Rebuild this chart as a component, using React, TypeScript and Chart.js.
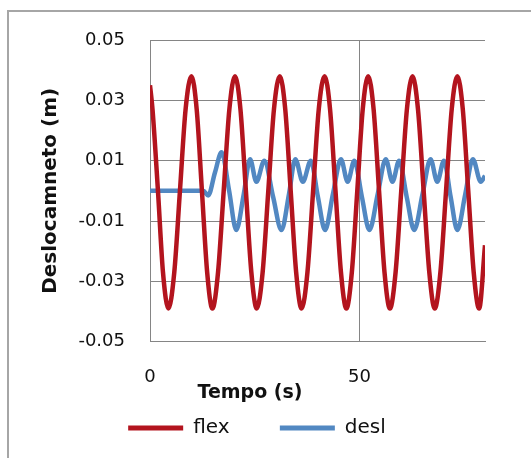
import React, { useEffect, useRef } from 'react';
import { Chart, registerables } from 'chart.js';

Chart.register(...registerables);

// Time (s) and displacement (m)
const flexTime = [0, 0.6, 1.9, 3.1, 4.4, 5.8, 7.15, 8.5, 9.9, 11.15, 12.4, 13.65, 14.9, 16.25, 17.6, 18.95, 20.3, 21.6, 22.9, 24.2, 25.5, 26.9, 28.25, 29.6, 31.0, 32.3, 33.6, 34.9, 36.2, 37.6, 38.95, 40.3, 41.7, 43.0, 44.3, 45.6, 46.9, 48.2, 49.5, 50.8, 52.1, 53.4, 54.7, 56.0, 57.3, 58.65, 60.0, 61.35, 62.7, 64.0, 65.35, 66.7, 68.0, 69.35, 70.7, 72.05, 73.4, 74.7, 76.0, 77.3, 78.6, 80];
const flexValue = [0.035, 0.027, 0, -0.027, -0.039, -0.027, 0, 0.027, 0.038, 0.027, 0, -0.027, -0.039, -0.027, 0, 0.027, 0.038, 0.027, 0, -0.027, -0.039, -0.027, 0, 0.027, 0.038, 0.027, 0, -0.027, -0.039, -0.027, 0, 0.027, 0.038, 0.027, 0, -0.027, -0.039, -0.027, 0, 0.027, 0.038, 0.027, 0, -0.027, -0.039, -0.027, 0, 0.027, 0.038, 0.027, 0, -0.027, -0.039, -0.027, 0, 0.027, 0.038, 0.027, 0, -0.027, -0.039, -0.018];

const deslTime = [0, 12.7, 13.9, 15.5, 17.1, 18.9, 20.6, 22.4, 23.9, 25.4, 27.3, 29.4, 31.4, 33.2, 34.7, 36.5, 38.4, 40.1, 41.8, 43.7, 45.6, 47.2, 48.8, 50.6, 52.4, 54.4, 56.3, 57.9, 59.5, 61.3, 63.1, 65.1, 67.0, 68.6, 70.2, 71.8, 73.4, 75.3, 77.1, 79.0, 80];
const deslValue = [0, 0, -0.0015, 0.006, 0.0128, 0, -0.013, -0.001, 0.0105, 0.003, 0.010, -0.002, -0.013, -0.001, 0.0105, 0.003, 0.010, -0.002, -0.013, -0.001, 0.0105, 0.003, 0.010, -0.002, -0.013, -0.001, 0.0105, 0.003, 0.010, -0.002, -0.013, -0.001, 0.0105, 0.003, 0.010, -0.002, -0.013, -0.001, 0.0105, 0.003, 0.005];

const seriesNames = ['flex', 'desl'];
const seriesColors = ['#B3141E', '#5288C2'];
const xTitle = 'Tempo (s)';
const yTitle = 'Deslocamneto (m)';

const xTitlePlugin = {
  id: 'xTitlePlugin',
  afterDraw(chart: any) {
    const ctx = chart.ctx;
    const sx = chart.scales.x;
    ctx.save();
    ctx.font = 'bold 19px "DejaVu Sans"';
    ctx.fillStyle = '#111';
    ctx.textAlign = 'center';
    ctx.textBaseline = 'middle';
    ctx.fillText(xTitle, sx.left + 100, sx.top + 51);
    ctx.restore();
  },
};

export default function App() {
  const ref = useRef<HTMLCanvasElement>(null);

  useEffect(() => {
    if (!ref.current) return;
    const toPts = (t: number[], v: number[]) => t.map((x, i) => ({ x, y: v[i] }));
    const chart = new Chart(ref.current, {
      type: 'line',
      data: {
        datasets: [
          {
            label: seriesNames[0],
            data: toPts(flexTime, flexValue),
            borderColor: seriesColors[0],
            backgroundColor: seriesColors[0],
            borderWidth: 4.5,
            pointRadius: 0,
            cubicInterpolationMode: 'monotone',
          },
          {
            label: seriesNames[1],
            data: toPts(deslTime, deslValue),
            borderColor: seriesColors[1],
            backgroundColor: seriesColors[1],
            borderWidth: 4.5,
            pointRadius: 0,
            cubicInterpolationMode: 'monotone',
          },
        ],
      },
      options: {
        animation: false,
        responsive: false,
        devicePixelRatio: 1,
        layout: { padding: { left: 29, right: 46, top: 40, bottom: 10 } },
        plugins: {
          tooltip: { enabled: false },
          legend: {
            position: 'bottom',
            labels: {
              boxWidth: 55,
              boxHeight: 5,
              padding: 50.3,
              color: '#111',
              font: { family: '"DejaVu Sans"', size: 20 },
              generateLabels: (c: any) =>
                Chart.defaults.plugins.legend.labels
                  .generateLabels(c)
                  .map((l: any) => ({ ...l, lineWidth: 0 })),
            },
          },
        },
        scales: {
          x: {
            type: 'linear',
            min: 0,
            max: 80,
            afterBuildTicks: (s: any) => {
              s.ticks = s.ticks.filter((t: any) => t.value === 0 || t.value === 50);
            },
            afterFit: (s: any) => {
              s.height = 26;
            },
            ticks: {
              stepSize: 50,
              mirror: true,
              padding: -46,
              color: '#111',
              font: { family: '"DejaVu Sans"', size: 18 },
              callback: (v: any) => String(v),
            },
            grid: { color: '#858585', lineWidth: 1, drawTicks: false },
            border: { color: '#858585', width: 1 },
          },
          y: {
            type: 'linear',
            min: -0.05,
            max: 0.05,
            afterFit: (s: any) => {
              s.width = 121;
            },
            ticks: {
              stepSize: 0.02,
              padding: 25,
              color: '#111',
              font: { family: '"DejaVu Sans"', size: 18 },
              callback: (v: any) => Number(v).toFixed(2),
            },
            title: {
              display: true,
              text: yTitle,
              color: '#111',
              padding: { top: 10, bottom: 0 },
              font: { family: '"DejaVu Sans"', size: 20, weight: 'bold' },
            },
            grid: { color: '#858585', lineWidth: 1, drawTicks: false },
            border: { color: '#858585', width: 1 },
          },
        },
      },
      plugins: [xTitlePlugin],
    } as any);
    return () => chart.destroy();
  }, []);

  return (
    <div style={{ position: 'fixed', left: 0, top: 0, width: 531, height: 458, overflow: 'hidden', background: '#fff' }}>
      <div style={{ position: 'absolute', left: 7, top: 10, width: 600, height: 600, border: '2px solid #a6a6a6' }} />
      <canvas ref={ref} width={531} height={458} style={{ position: 'absolute', left: 0, top: 0, width: 531, height: 458 }} />
    </div>
  );
}
